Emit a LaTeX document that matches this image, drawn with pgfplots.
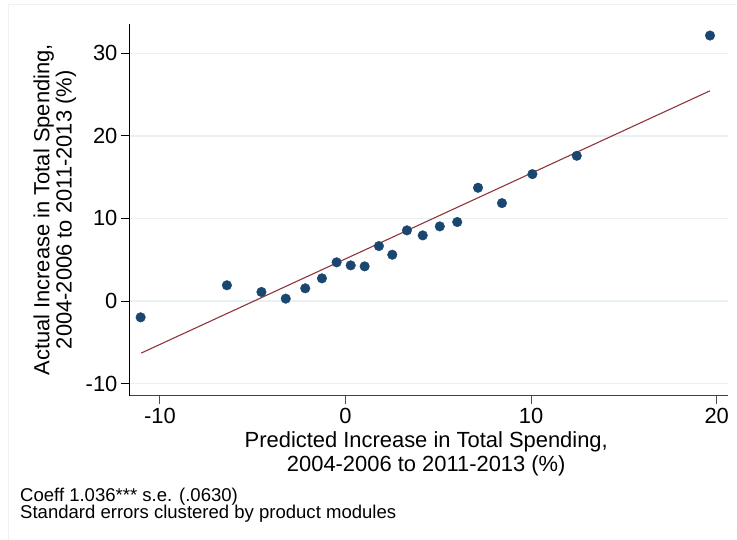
\documentclass[border=0pt]{standalone}
\usepackage{pgfplots}
\pgfplotsset{compat=1.18}
\usepackage{fontspec}
\setmainfont{Liberation Sans}
\definecolor{stnavy}{RGB}{26,71,111}
\definecolor{stmaroon}{RGB}{144,53,59}
\definecolor{stgrid}{RGB}{232,240,242}
\definecolor{stframe}{RGB}{236,242,244}
\begin{document}
\begin{tikzpicture}[x=1bp,y=1bp]
\useasboundingbox (0,0) rectangle (737,540);
\fill[white] (0,0) rectangle (737,540);
\draw[stframe, line width=1bp] (8,-10) rectangle (760,535);
\begin{axis}[
  at={(129.3bp,144.3bp)}, anchor=south west,
  scale only axis, width=598.7bp, height=371.7bp,
  xmin=-11.65, xmax=20.61, ymin=-11.47, ymax=33.54,
  axis x line*=bottom, axis y line*=left,
  x axis line style={black!75, line width=1.2bp},
  y axis line style={black, line width=0.9bp},
  xtick={-10,0,10,20}, xticklabels={-10,0,10,20},
  ytick={-10,0,10,20,30}, yticklabels={-10,0,10,20,30},
  ymajorgrids, grid style={stgrid, line width=1.4bp},
  tick align=outside, major tick length=8bp,
  xtick style={black!70, line width=0.9bp},
  ytick style={black, line width=0.9bp},
  ticklabel style={font=\fontsize{22}{26}\selectfont},
  xticklabel style={inner sep=0pt, yshift=-4.5bp},
  yticklabel style={inner sep=0pt, xshift=-3.7bp},
  xlabel={Predicted Increase in Total Spending,\\2004-2006 to 2011-2013 (\%)},
  xlabel style={at={(axis description cs:0.496,-0.0969)}, anchor=north, inner sep=0pt, align=center, font=\fontsize{22}{23.3}\selectfont},
  ylabel={Actual Increase in Total Spending,\\2004-2006 to 2011-2013 (\%)},
  ylabel style={at={(axis description cs:-0.1603,0.5)}, rotate=0, anchor=north, inner sep=0pt, align=center, font=\fontsize{22}{22.4}\selectfont},
  clip=false,
]
\addplot[only marks, mark=*, mark size=4.8bp, mark options={fill=stnavy, draw=stnavy}] coordinates {
(-11.04,-1.98) (-6.39,1.90) (-4.53,1.09) (-3.22,0.28) (-2.17,1.53)
(-1.27,2.74) (-0.48,4.68) (0.28,4.31) (1.03,4.19) (1.80,6.65)
(2.52,5.60) (3.31,8.55) (4.16,7.94) (5.08,9.03) (6.02,9.56)
(7.14,13.71) (8.43,11.85) (10.07,15.36) (12.46,17.58) (19.64,32.14)
};
\addplot[stmaroon, line width=1.1bp] coordinates {(-11.01,-6.31) (19.64,25.45)};
\end{axis}
\node[anchor=base west, inner sep=0pt, font=\fontsize{18.6}{20}\selectfont] at (20,38.3) {Coeff 1.036*** s.e. (.0630)};
\node[anchor=base west, inner sep=0pt, font=\fontsize{18.6}{20}\selectfont] at (20,21) {Standard errors clustered by product modules};
\end{tikzpicture}
\end{document}
